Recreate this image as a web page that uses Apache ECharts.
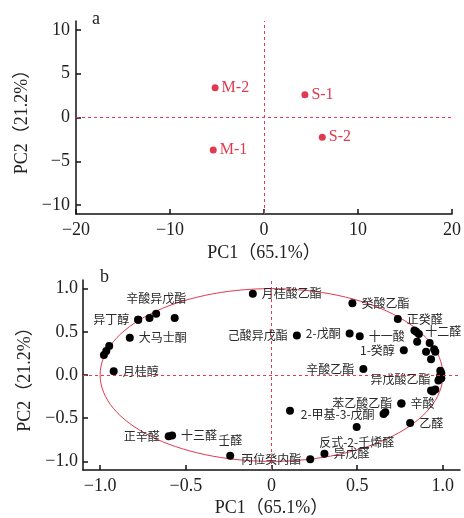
<!DOCTYPE html>
<html><head><meta charset="utf-8">
<script src="https://cdn.jsdelivr.net/npm/echarts@6/dist/echarts.min.js"></script>
<style>html,body{margin:0;padding:0;background:#fff}#c{width:464px;height:518px}</style>
</head><body><div id="c"></div>
<script>
// ---- Panel a: sample scores ----
const sampleNames = ['M-2', 'S-1', 'S-2', 'M-1'];
const sampleX = [-5.2, 4.35, 6.2, -5.4];
const sampleY = [3.4, 2.6, -2.25, -3.7];
const ticksA_X = [-20, -10, 0, 10, 20];
const ticksA_Y = [-10, -5, 0, 5, 10];

// ---- Panel b: variable loadings ----
const loadNames = ['', '异丁醇', '', '辛酸异戊酯', '', '大马士酮', '', '', '', '月桂醇',
  '正辛醛', '十三醛', '壬醛', '丙位癸内酯', '异戊醛', '月桂酸乙酯', '癸酸乙酯', '正癸醛',
  '己酸异戊酯', '2-戊酮', '十一酸', '1-癸醇', '辛酸乙酯', '苯乙酸乙酯', '辛酸', '2-甲基-3-戊酮',
  '', '', '反式-2-壬烯醛', '乙醛', '', '十二醛', '', '', '', '', '', '', '', '', '', '',
  '异戊酸乙酯', '', '', '', '', ''];
const loadX = [-0.778, -0.778, -0.712, -0.673, -0.565, -0.827, -0.947, -0.964, -0.978, -0.921,
  -0.60, -0.58, -0.241, 0.226, 0.309, -0.109, 0.472, 0.737,
  0.148, 0.456, 0.515, 0.772, 0.536, 0.757, 0.759, 0.654,
  0.664, 0.108, 0.497, 0.809, 0.834, 0.845, 0.86, 0.85, 0.923, 0.902, 0.949, 0.956, 0.931, 0.985, 0.991, 0.984,
  0.98, 0.991, 0.974, 0.931, 0.941, 0.956];
const loadY = [0.64, 0.64, 0.66, 0.709, 0.66, 0.43, 0.335, 0.278, 0.232, 0.042,
  -0.71, -0.70, -0.934, -0.975, -0.911, 0.94, 0.83, 0.648,
  0.457, 0.48, 0.45, 0.286, 0.069, -0.33, -0.331, -0.453,
  -0.431, -0.415, -0.602, -0.556, 0.514, 0.50, 0.476, 0.385, 0.37, 0.27, 0.297, 0.27, 0.183, 0.049, 0.023, -0.008,
  -0.046, -0.038, -0.065, -0.179, -0.19, -0.168];
const ticksB = [-1, -0.5, 0, 0.5, 1];
const circleRadius = 1;

// label placement (style only)
const labelPlace = {
  '异丁醇': ['left', [0, 2]], '辛酸异戊酯': ['top', [2, 0]], '大马士酮': ['right', [0, 1]],
  '月桂醇': ['right', [0, 0]], '正辛醛': ['left', [0, 4]], '十三醛': ['right', [0, -6]],
  '壬醛': ['top', [2, 2]], '丙位癸内酯': ['left', [0, -5]], '异戊醛': ['right', [0, 1]],
  '月桂酸乙酯': ['right', [0, 0]], '癸酸乙酯': ['right', [0, -7]], '正癸醛': ['right', [0, -3]],
  '己酸异戊酯': ['left', [0, 6]], '2-戊酮': ['left', [0, -2]], '十一酸': ['right', [0, 1]],
  '1-癸醇': ['left', [0, 4]], '辛酸乙酯': ['left', [0, -5]], '苯乙酸乙酯': ['left', [0, -2]],
  '辛酸': ['right', [0, 0]], '2-甲基-3-戊酮': ['left', [0, 2]], '反式-2-壬烯醛': ['bottom', [0, 0]],
  '乙醛': ['right', [0, 1]], '十二醛': ['right', [0, -2]], '异戊酸乙酯': ['left', [0, 0]]
};

const RED = '#e03a50';
const SERIF = '"Liberation Serif","Times New Roman",serif';
const CJK = '"Noto Sans CJK SC","Noto Sans CJK JP",sans-serif';
const fmtMinus = s => String(s).replace('-', '\u2212');

const sampleData = sampleNames.map((n, i) => ({ name: n, value: [sampleX[i], sampleY[i]] }));
const loadData = loadNames.map((n, i) => {
  const d = { name: n, value: [loadX[i], loadY[i]] };
  if (n && labelPlace[n]) {
    d.label = { show: true, position: labelPlace[n][0], offset: labelPlace[n][1] };
  }
  return d;
});

function axisCommon(ticks, fmt, margin) {
  return {
    axisLine: { show: true, onZero: false, lineStyle: { color: '#111', width: 1.5 } },
    axisTick: { show: true, inside: true, length: 5, customValues: ticks, lineStyle: { color: '#111', width: 1.5 } },
    axisLabel: { customValues: ticks, formatter: fmt, margin: margin, color: '#222', fontFamily: SERIF, fontSize: 18 },
    splitLine: { show: false },
    nameLocation: 'middle',
    nameTextStyle: { color: '#222', fontFamily: SERIF + ',' + CJK, fontSize: 18 }
  };
}

const zeroLines = {
  silent: true, symbol: 'none', animation: false, label: { show: false },
  lineStyle: { color: RED, type: [3, 3], width: 1, opacity: 1 },
  data: [{ xAxis: 0 }, { yAxis: 0 }]
};

const chart = echarts.init(document.getElementById('c'), null, { renderer: 'canvas' });
chart.setOption({
  animation: false,
  backgroundColor: '#fff',
  grid: [
    { left: 76, top: 21, width: 378, height: 193 },
    { left: 83, top: 280, width: 377, height: 193 }
  ],
  xAxis: [
    Object.assign(axisCommon(ticksA_X, v => fmtMinus(v), 7), { gridIndex: 0, type: 'value', min: -20, max: 20, name: 'PC1（65.1%）', nameGap: 30 }),
    Object.assign(axisCommon(ticksB, v => v === 0 ? '0' : fmtMinus(v.toFixed(1)), 7), { gridIndex: 1, type: 'value', min: -1.1, max: 1.1, name: 'PC1（65.1%）', nameGap: 29 })
  ],
  yAxis: [
    Object.assign(axisCommon(ticksA_Y, v => fmtMinus(v), 6), { gridIndex: 0, type: 'value', min: -11, max: 11, name: 'PC2（21.2%）', nameGap: 45 }),
    Object.assign(axisCommon(ticksB, v => fmtMinus(v.toFixed(1)), 5), { gridIndex: 1, type: 'value', min: -1.1, max: 1.1, name: 'PC2（21.2%）', nameGap: 48 })
  ],
  graphic: [
    { type: 'text', left: 92, top: 10, style: { text: 'a', font: '18px ' + SERIF, fill: '#222' } },
    { type: 'text', left: 100, top: 268, style: { text: 'b', font: '18px ' + SERIF, fill: '#222' } }
  ],
  series: [
    {
      type: 'scatter', xAxisIndex: 0, yAxisIndex: 0, symbolSize: 7,
      itemStyle: { color: RED, opacity: 1 }, data: sampleData,
      label: { show: true, position: 'right', distance: 3, formatter: '{b}', color: RED, fontFamily: SERIF, fontSize: 16 },
      markLine: zeroLines, z: 3
    },
    {
      type: 'custom', xAxisIndex: 1, yAxisIndex: 1, silent: true, z: 1,
      data: [[0, 0]],
      renderItem: function (params, api) {
        const c = api.coord([0, 0]);
        const s = api.size([circleRadius, circleRadius]);
        return { type: 'ellipse', shape: { cx: c[0], cy: c[1], rx: s[0], ry: s[1] },
          style: { fill: 'none', stroke: RED, lineWidth: 1 } };
      }
    },
    {
      type: 'scatter', xAxisIndex: 1, yAxisIndex: 1, symbolSize: 8,
      itemStyle: { color: '#000', opacity: 1 }, data: loadData,
      label: { show: false, distance: 5, formatter: '{b}', color: '#2a2a2a', fontFamily: CJK, fontSize: 12 },
      labelLayout: { hideOverlap: false },
      markLine: zeroLines, z: 3
    }
  ]
});
</script></body></html>
